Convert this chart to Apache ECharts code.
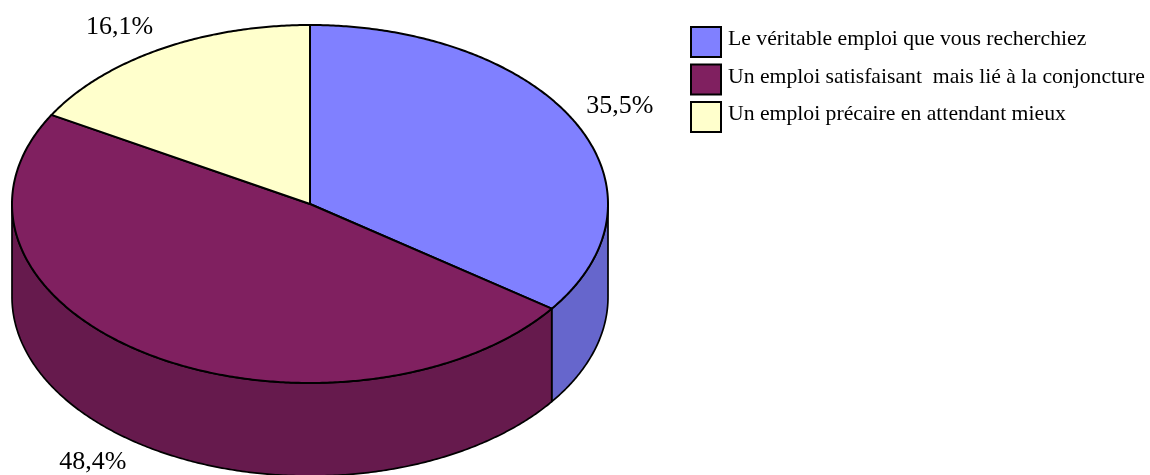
<!DOCTYPE html>
<html><head><meta charset="utf-8">
<style>html,body{margin:0;padding:0;background:#fff}#c{width:1150px;height:475px}</style>
<script src="https://cdn.jsdelivr.net/npm/echarts@6/dist/echarts.min.js"></script>
</head><body><div id="c"></div>
<script>
const categories = ['Le véritable emploi que vous recherchiez','Un emploi satisfaisant  mais lié à la conjoncture','Un emploi précaire en attendant mieux'];
const values = [35.5, 48.4, 16.1];
const topColors = ['#8080ff','#802060','#ffffcc'];
const sideColors = ['#6666cc','#661a4d','#ffffcc'];

const CX=310, CY=204, RX=298, RY=179, DEPTH=93, LABEL_R=1.175, SERIF='"Liberation Serif","Times New Roman",serif';
const LABEL_NUDGE=[[-2,-2],[-27.5,-12],[-15,5]];
const D=Math.PI/180;
const total=values.reduce((a,b)=>a+b,0);
// perspective of the tilted disc: slight compression of the angle away from the rear
const warp=t=>{const s=Math.sin(t*D);return t-3.13*s*s-0.06*s;};
const pt=(t,r=1,dy=0)=>[CX+RX*r*Math.sin(t*D),CY-RY*r*Math.cos(t*D)+dy];
const arc=(a,b,dy=0)=>{const p=[];const n=Math.max(2,Math.ceil(Math.abs(b-a)*2));for(let i=0;i<=n;i++)p.push(pt(a+(b-a)*i/n,1,dy));return p;};
const spans=[];let acc=0;values.forEach(v=>{const s=acc;acc+=v;spans.push([warp(s/total*360),warp(acc/total*360),(s+v/2)/total*360]);});
const sty=(fill,w)=>({fill,stroke:'#000',lineWidth:w,lineJoin:'round'});

function render(params){
  const i=params.seriesIndex,[a,b]=spans[i];
  const children=[];
  const fa=Math.max(a,90),fb=Math.min(b,270);
  if(fb>fa){
    const low=arc(fa,fb,DEPTH),up=arc(fb,fa,0);
    children.push({type:'polygon',z2:1,shape:{points:low.concat(up)},style:sty(sideColors[i],1.7)});
  }
  children.push({type:'polygon',z2:2,shape:{points:[[CX,CY]].concat(arc(a,b))},style:sty(topColors[i],2)});
  return {type:'group',children};
}
function labelRender(params){
  const i=params.dataIndex,mid=(spans[i][0]+spans[i][1])/2;
  const [x,y]=pt(mid,LABEL_R,Math.cos(mid*D)<-0.3?DEPTH:0);
  return {type:'text',z2:5,style:{x:x+LABEL_NUDGE[i][0],y:y+LABEL_NUDGE[i][1],text:values[i].toFixed(1).replace('.',',')+'%',font:'26px '+SERIF,fill:'#000',align:'center',verticalAlign:'middle'}};
}
const series=categories.map((name,i)=>({type:'custom',name,coordinateSystem:'none',silent:true,animation:false,clip:false,z:2,renderItem:render,data:[values[i]],itemStyle:{color:topColors[i]}}));
series.push({type:'custom',name:'labels',coordinateSystem:'none',silent:true,animation:false,z:3,renderItem:labelRender,data:values});
const chart=echarts.init(document.getElementById('c'),null,{renderer:'canvas'});
chart.setOption({
  animation:false,backgroundColor:'#fff',
  legend:{left:690,top:26,orient:'vertical',selectedMode:false,itemWidth:30,itemHeight:30,itemGap:5.5,padding:0,
    formatter:name=>name+'\n ',
    data:categories.map((name,i)=>({name,icon:'rect',itemStyle:{color:topColors[i],borderColor:'#000',borderWidth:2}})),
    textStyle:{fontFamily:'Liberation Serif',fontSize:21.7,lineHeight:5,color:'#000',padding:[0,0,0,2]}},
  series
});
</script></body></html>
